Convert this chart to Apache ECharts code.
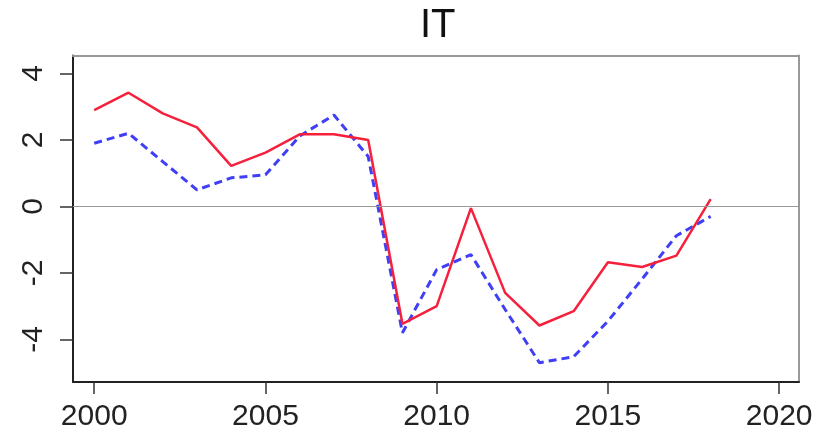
<!DOCTYPE html>
<html>
<head>
<meta charset="utf-8">
<script src="https://cdn.jsdelivr.net/npm/echarts@6/dist/echarts.min.js"></script>
<style>html,body{margin:0;padding:0;background:#fff}#c{width:831px;height:433px}</style>
</head>
<body>
<div id="c"></div>
<script>
var years = [2000,2001,2002,2003,2004,2005,2006,2007,2008,2009,2010,2011,2012,2013,2014,2015,2016,2017,2018];
var redSolid = [2.9,3.42,2.8,2.38,1.22,1.62,2.17,2.17,2.0,-3.53,-3.0,-0.05,-2.6,-3.58,-3.15,-1.68,-1.82,-1.48,0.22];
var blueDashed = [1.9,2.2,1.35,0.5,0.86,0.95,2.12,2.75,1.5,-3.8,-1.9,-1.45,-3.1,-4.7,-4.52,-3.45,-2.18,-0.88,-0.3];
var xTicks = [2000,2005,2010,2015,2020];
var yTicks = [-4,-2,0,2,4];

function pairs(xs, ys){ return xs.map(function(x,i){ return [x, ys[i]]; }); }

var FONT = 'Liberation Sans, Arial, sans-serif';
var xmin = 1999.38, xmax = 2020.58, ymin = -5.28, ymax = 4.54;

var chart = echarts.init(document.getElementById('c'), null, {renderer:'canvas'});
chart.setOption({
  animation: false,
  backgroundColor: '#fff',
  title: {
    text: 'IT', left: 415, top: 1,
    textStyle: {fontFamily: FONT, fontSize: 40, fontWeight: 'normal', color: '#111'}
  },
  grid: {left: 73, top: 55.5, right: 32, bottom: 51, containLabel: false},
  xAxis: [{
    type: 'value', min: xmin, max: xmax,
    axisLine: {show: true, onZero: false, lineStyle: {color: '#222', width: 2}},
    axisTick: {show: true, length: 12, customValues: xTicks, lineStyle: {color: '#333', width: 1.5}},
    axisLabel: {customValues: xTicks, formatter: function(v){ return String(Math.round(v)); },
      fontFamily: FONT, fontSize: 30, color: '#222', margin: 20},
    splitLine: {show: false}
  },{
    type: 'value', position: 'top', min: xmin, max: xmax,
    axisLine: {show: true, onZero: false, lineStyle: {color: '#999', width: 2}},
    axisTick: {show: false}, axisLabel: {show: false}, splitLine: {show: false}
  }],
  yAxis: [{
    type: 'value', min: ymin, max: ymax,
    axisLine: {show: true, onZero: false, lineStyle: {color: '#222', width: 2}},
    axisTick: {show: true, length: 13, customValues: yTicks, lineStyle: {color: '#333', width: 1.5}},
    axisLabel: {customValues: yTicks, formatter: function(v){ return String(Math.round(v)); },
      rotate: 90, fontFamily: FONT, fontSize: 30, color: '#222', margin: 24},
    splitLine: {show: false}
  },{
    type: 'value', position: 'right', min: ymin, max: ymax,
    axisLine: {show: true, onZero: false, lineStyle: {color: '#999', width: 2}},
    axisTick: {show: false}, axisLabel: {show: false}, splitLine: {show: false}
  }],
  series: [{
    name: 'blue', type: 'line', data: pairs(years, blueDashed),
    showSymbol: false, symbol: 'none',
    lineStyle: {color: '#3f3ff5', width: 3, type: [8, 5]},
    z: 3,
    markLine: {
      silent: true, symbol: 'none', label: {show: false},
      lineStyle: {color: '#999', width: 1.2, type: 'solid'},
      data: [{yAxis: 0}]
    }
  },{
    name: 'red', type: 'line', data: pairs(years, redSolid),
    showSymbol: false, symbol: 'none',
    lineStyle: {color: '#f5213c', width: 2.5},
    z: 4
  }]
});
</script>
</body>
</html>
